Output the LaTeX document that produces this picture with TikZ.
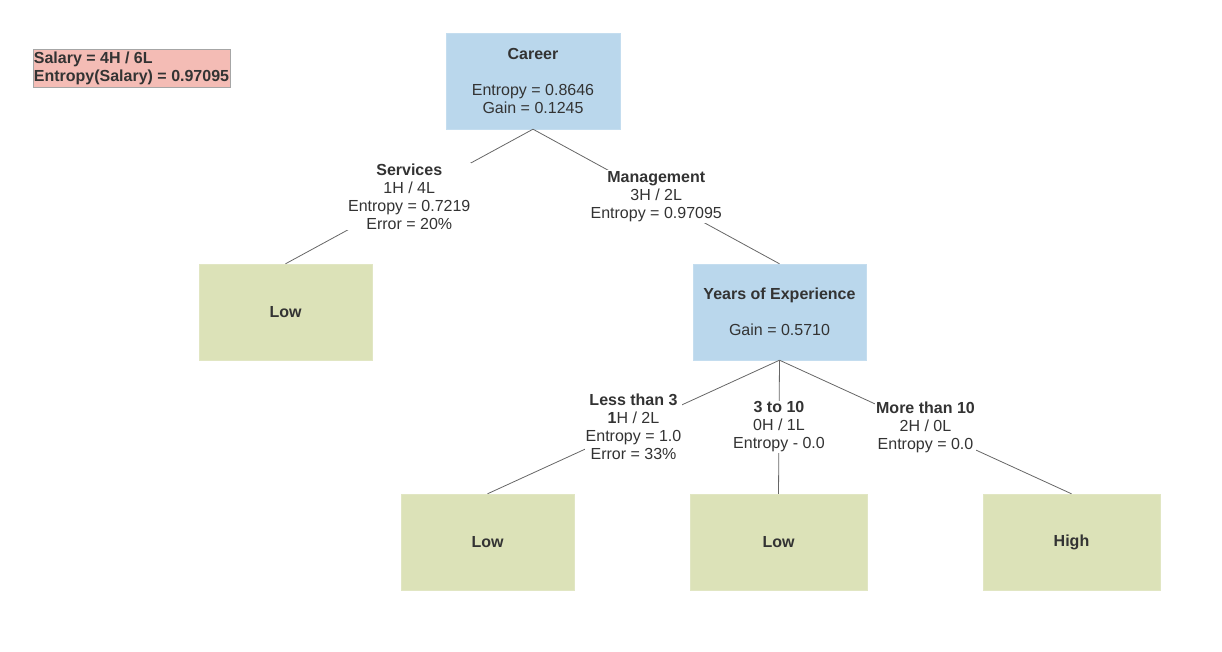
\documentclass[tikz,border=0pt]{standalone}
\usepackage{fontspec}
\setmainfont{Liberation Sans}
\definecolor{txt}{HTML}{333333}
\definecolor{bluebox}{HTML}{BAD7EC}
\definecolor{greenbox}{HTML}{DCE2B8}
\definecolor{pinkbox}{HTML}{F4BCB5}
\definecolor{edgegray}{HTML}{666666}
\begin{document}
\begin{tikzpicture}[x=1pt,y=-1pt,
  font=\fontsize{16}{18}\selectfont,
  every node/.style={text=txt},
  decision/.style={fill=bluebox, draw=bluebox!85!white, align=center, minimum width=174pt, minimum height=96pt, inner sep=0pt},
  leaf/.style={fill=greenbox, draw=greenbox!85!white, align=center, minimum height=96pt, inner sep=0pt, font=\fontsize{16}{18}\selectfont\bfseries},
  info/.style={fill=pinkbox, draw=gray!70, align=left, minimum width=197pt, minimum height=38pt, inner sep=1pt, font=\fontsize{16}{18}\selectfont\bfseries},
  edge/.style={draw=edgegray, line width=0.8pt},
  lbl/.style={fill=white, inner sep=1pt, align=center}]
\useasboundingbox (0,0) rectangle (1222,652);

\node[info] (salary) at (131.5,68) {Salary = 4H / 6L\\Entropy(Salary) = 0.97095};

\node[decision] (career) at (533,81) {\textbf{Career}\\ \\Entropy = 0.8646\\Gain = 0.1245};
\node[leaf, minimum width=173pt] (low1) at (285.5,312) {Low};
\node[decision, minimum width=173pt] (yoe) at (779.5,312) {\textbf{Years of Experience}\\ \\Gain = 0.5710};
\node[leaf, minimum width=173pt] (low2) at (487.5,542) {Low};
\node[leaf, minimum width=177pt] (low3) at (778.5,542) {Low};
\node[leaf, minimum width=177pt] (high) at (1071.5,542) {High};

\draw[edge] (career.south) -- (low1.north)
  node[midway, lbl] (svc) {\textbf{Services}\\1H / 4L\\Entropy = 0.7219\\Error = 20\%};
\draw[edge] (career.south) -- (yoe.north)
  node[midway, lbl] (mgmt) {\textbf{Management}\\3H / 2L\\Entropy = 0.97095};
\draw[edge] (yoe.south) -- (low2.north)
  node[midway, lbl] (lt3) {\textbf{Less than 3}\\\textbf{1}H / 2L\\Entropy = 1.0\\Error = 33\%};
\draw[edge] (yoe.south) -- (low3.north)
  node[midway, lbl] (mid) {\textbf{3 to 10}\\0H / 1L\\Entropy - 0.0};
\draw[edge] (yoe.south) -- (high.north)
  node[midway, lbl] (gt10) {\textbf{More than 10}\\2H / 0L\\Entropy = 0.0};
\end{tikzpicture}
\end{document}
